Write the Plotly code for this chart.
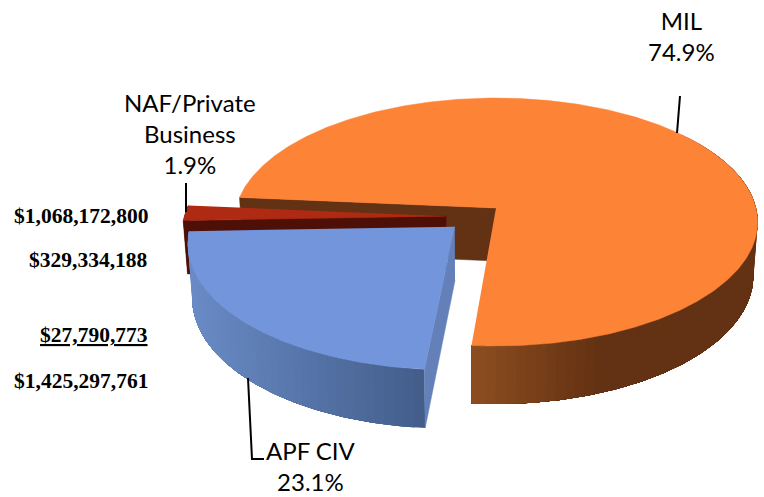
"""Budget share pie, drawn as an exploded 3D wedge chart."""

import numpy as np
import plotly.graph_objects as go

# Data
categories = ['MIL', 'APF CIV', 'NAF/Private<br>Business']
amounts = [1068172800, 329334188, 27790773]
total_amount = 1425297761
amount_rows = [1068172800, 329334188, 27790773, 1425297761]

# Look of the chart
START_ANGLE = 185.0
OFFSETS = [(0.0, 0.0), (-0.156, 0.150), (-0.190, 0.066)]  # explode, in disc radii
TOP_COLORS = ['#FD8337', '#7395DB', '#AE2A12']
WALL_COLORS = ['#633113', '#6480B8', '#4E0F06']
SIDE_RAMPS = [((475, 600), (140, 78, 32), (99, 49, 19)),
              ((190, 427), (106, 139, 198), (66, 93, 138)),
              ((180, 200), (78, 15, 6), (78, 15, 6))]
LABEL_FONT = 'Lato, Carlito, Calibri, sans-serif'
AMOUNT_FONT = 'Liberation Serif, Times New Roman, serif'


def project(u, v, lower=False):
    """Disc coordinates to page pixels, with a little perspective."""
    u, v = np.asarray(u, float), np.asarray(v, float)
    f = 1 - 0.113 * v
    x = 496 + 260 * u / f
    y = 208 + 122.4 * v / f
    if lower:
        x = 475 + (x - 475) * 0.985
        y = y + 53 + 5 * (y - 208) / 138
    return x, y


def arc(a0, a1, off, lower=False):
    t = np.radians(np.linspace(a0, a1, max(int(abs(a1 - a0)) * 2, 4)))
    return project(np.cos(t) + off[0], np.sin(t) + off[1], lower)


def poly(fig, x, y, color, width=0.5):
    fig.add_trace(go.Scatter(
        x=list(x), y=list(y), mode='lines', fill='toself', fillcolor=color,
        line=dict(color=color, width=width), hoverinfo='skip', showlegend=False,
    ))


def draw_side(fig, a0, a1, off, ramp):
    """Outer rim. Each strip runs on to the rim's end and the next paints over it, so no seams."""
    (xa, xb), c0, c1 = ramp
    edges = np.arange(a0, a1, 2.0)
    for s in edges:
        tx, ty = arc(s, a1, off)
        bx, by = arc(s, a1, off, lower=True)
        k = np.clip((project(np.cos(np.radians(s + 1)) + off[0],
                             np.sin(np.radians(s + 1)) + off[1])[0] - xa) / (xb - xa), 0, 1)
        rgb = [int(c0[i] + (c1[i] - c0[i]) * k) for i in range(3)]
        poly(fig, np.r_[tx, bx[::-1]], np.r_[ty, by[::-1]], 'rgb(%d,%d,%d)' % tuple(rgb), width=0)


def draw_wall(fig, angle, off, color):
    """Flat cut face between the centre and the rim."""
    u = np.array([off[0], off[0] + np.cos(np.radians(angle))])
    v = np.array([off[1], off[1] + np.sin(np.radians(angle))])
    tx, ty = project(u, v)
    bx, by = project(u, v, lower=True)
    poly(fig, np.r_[tx, bx[::-1]], np.r_[ty, by[::-1]], color)


def draw_top(fig, a0, a1, off, color):
    ax, ay = project(off[0], off[1])
    x, y = arc(a0, a1, off)
    poly(fig, np.r_[ax, x], np.r_[ay, y], color)


sweeps = [a / sum(amounts) * 360 for a in amounts]
mil_end = START_ANGLE + sweeps[0]
apf_start = mil_end - 360
apf_end = apf_start + sweeps[1]
naf_end = apf_end + sweeps[2]

fig = go.Figure()

# MIL
draw_wall(fig, START_ANGLE, OFFSETS[0], WALL_COLORS[0])
draw_side(fig, 320, mil_end, OFFSETS[0], SIDE_RAMPS[0])
draw_top(fig, START_ANGLE, mil_end, OFFSETS[0], TOP_COLORS[0])

# NAF / private business
draw_side(fig, apf_end, naf_end, OFFSETS[2], SIDE_RAMPS[2])
draw_wall(fig, apf_end, OFFSETS[2], WALL_COLORS[2])
draw_top(fig, apf_end, naf_end, OFFSETS[2], TOP_COLORS[2])

# APF CIV
draw_side(fig, apf_start, apf_end, OFFSETS[1], SIDE_RAMPS[1])
draw_wall(fig, apf_start, OFFSETS[1], WALL_COLORS[1])
draw_top(fig, apf_start, apf_end, OFFSETS[1], TOP_COLORS[1])

# Leader lines
for path in ['M 680 96 L 677 133', 'M 186 183 L 186 212', 'M 248 378 L 252 459 L 264 459']:
    fig.add_shape(type='path', path=path, line=dict(color='#000000', width=2))

# Slice labels
label_pos = [(681, 36), (311, 466), (190, 133)]
for name, amount, (lx, ly) in zip(categories, amounts, label_pos):
    fig.add_annotation(
        x=lx, y=ly, text=f'{name}<br>{int(amount / total_amount * 1000) / 10:.1f}%',
        showarrow=False, align='center',
        font=dict(family=LABEL_FONT, size=24, color='#000000'),
    )

# Dollar amounts, hand placed beside the chart in the source
amount_y = [216, 260, 335, 381]
for i, (val, ay) in enumerate(zip(amount_rows, amount_y)):
    text = f'${val:,}'
    if i == 2:
        text = f'<u>{text}</u>'
    fig.add_annotation(
        x=150, y=ay, text=f'<b>{text}</b>', showarrow=False, xanchor='right',
        font=dict(family=AMOUNT_FONT, size=21.5, color='#000000'),
    )

fig.update_layout(
    width=764, height=497, margin=dict(l=0, r=0, t=0, b=0),
    paper_bgcolor='#ffffff', plot_bgcolor='#ffffff', showlegend=False,
    xaxis=dict(range=[0, 764], visible=False, fixedrange=True),
    yaxis=dict(range=[497, 0], visible=False, fixedrange=True),
)

fig.write_html('out.html', config={'displayModeBar': False},
               post_script="document.body.style.margin='0';")
